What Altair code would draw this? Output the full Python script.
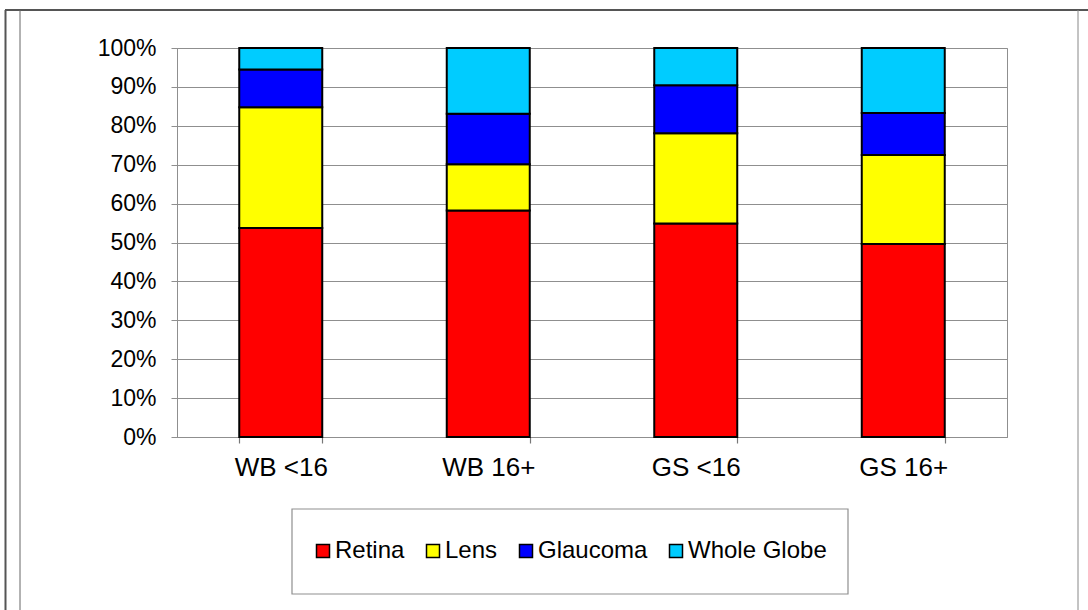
import altair as alt
import pandas as pd

# Share of cases (%) per age/sample group, stacked bottom-to-top
groups = ["WB <16", "WB 16+", "GS <16", "GS 16+"]
conditions = ["Retina", "Lens", "Glaucoma", "Whole Globe"]
retina = [53.7, 58.2, 54.9, 49.6]
lens = [31.1, 11.9, 23.2, 22.9]
glaucoma = [9.7, 13.0, 12.3, 10.8]
whole_globe = [5.5, 16.9, 9.6, 16.7]
palette = ["#FF0000", "#FFFF00", "#0000FF", "#00CCFF"]
y_ticks = list(range(0, 101, 10))

series = [retina, lens, glaucoma, whole_globe]
rows = []
for i, g in enumerate(groups):
    for k, c in enumerate(conditions):
        rows.append({"group": g, "condition": c, "share": series[k][i], "rank": k})
df = pd.DataFrame(rows)

W, H = 830, 389
LEFT, TOP = 177, 48
FONT = "Liberation Sans"
GRID = "#8f8f8f"

one = pd.DataFrame({"k": [0]})

bars = alt.Chart(df).mark_bar(stroke="black", strokeWidth=2, opacity=1).encode(
    x=alt.X(
        "group:N",
        sort=groups,
        scale=alt.Scale(paddingInner=0.6, paddingOuter=0.3),
        axis=alt.Axis(
            title=None, labelAngle=0, tickBand="extent", grid=False,
            domainColor=GRID, tickColor="#777", tickSize=6, tickWidth=1.2,
            labelFont=FONT, labelFontSize=26, labelColor="black", labelPadding=11,
        ),
    ),
    y=alt.Y(
        "share:Q",
        stack="zero",
        scale=alt.Scale(domain=[0, 100], nice=False),
        axis=alt.Axis(
            title=None, values=y_ticks, labelExpr="datum.value + '%'",
            domainColor=GRID, tickColor=GRID, tickSize=6, tickWidth=1,
            gridColor=GRID, gridWidth=1,
            labelFont=FONT, labelFontSize=23, labelColor="black", labelPadding=15,
        ),
    ),
    color=alt.Color(
        "condition:N",
        sort=conditions,
        scale=alt.Scale(domain=conditions, range=palette),
        legend=alt.Legend(
            title=None, orient="none", legendX=134, legendY=491,
            direction="horizontal", symbolType="square", symbolSize=169,
            symbolStrokeColor="black", symbolStrokeWidth=1.5, symbolOpacity=1,
            labelFont=FONT, labelFontSize=24, labelColor="black",
            labelOffset=0, columnPadding=16, padding=0,
        ),
    ),
    order=alt.Order("rank:Q", sort="ascending"),
)

# Box around the legend
legend_box = alt.Chart(one).mark_rect(fill="white", stroke=GRID, strokeWidth=1.2).encode(
    x=alt.value(115), x2=alt.value(671), y=alt.value(461), y2=alt.value(546)
)

# Outer frame of the figure
frame_top = alt.Chart(one).mark_rule(color="#555", strokeWidth=2).encode(
    x=alt.value(-172), x2=alt.value(911), y=alt.value(-38)
)
frame_left = alt.Chart(one).mark_rule(color="#555", strokeWidth=2).encode(
    x=alt.value(-171.5), y=alt.value(-38), y2=alt.value(562)
)
frame_left_inner = alt.Chart(one).mark_rule(color="#666", strokeWidth=1).encode(
    x=alt.value(-157), y=alt.value(-38), y2=alt.value(562)
)
frame_right = alt.Chart(one).mark_rule(color="#888", strokeWidth=1).encode(
    x=alt.value(901), y=alt.value(-38), y2=alt.value(562)
)

chart = (
    alt.layer(legend_box, frame_top, frame_left, frame_left_inner, frame_right, bars)
    .properties(
        width=W,
        height=H,
        autosize=alt.AutoSizeParams(type="none"),
        padding={"left": LEFT, "top": TOP, "right": 1088 - LEFT - W, "bottom": 610 - TOP - H},
        background="white",
    )
    .configure_view(stroke=GRID, strokeWidth=1)
)

chart.save("out.html", embed_options={"renderer": "svg", "actions": False})
